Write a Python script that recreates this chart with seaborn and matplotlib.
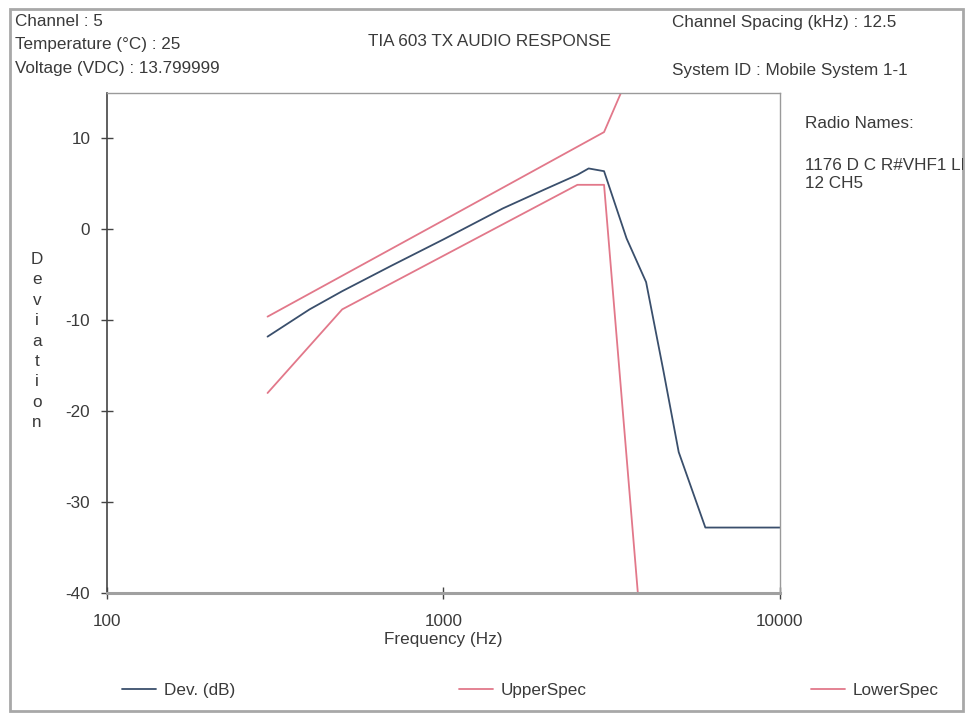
import numpy as np
import pandas as pd
import matplotlib
matplotlib.use("Agg")
import matplotlib.pyplot as plt
from matplotlib.patches import Rectangle
from matplotlib.lines import Line2D
import seaborn as sns

# values
dev_freq = [300, 400, 500, 700, 1000, 1500, 2000, 2500, 2700, 3000, 3500, 4000, 4500, 5000, 6000, 10000]
dev_db = [-11.8, -8.8, -6.8, -4.0, -1.1, 2.3, 4.4, 6.0, 6.7, 6.4, -1.0, -5.8, -15.5, -24.5, -32.8, -32.8]

upper_freq = [300, 1000, 3000, 3600]
upper_db = [-9.6, 1.0, 10.7, 17.5]

lower_freq = [300, 500, 1000, 2500, 3000, 3800]
lower_db = [-18.0, -8.8, -2.9, 4.9, 4.9, -41.0]

series_names = ["Dev. (dB)", "UpperSpec", "LowerSpec"]
x_ticks = [100, 1000, 10000]
y_ticks = [-40, -30, -20, -10, 0, 10]

header_left = ["Channel : 5", "Temperature (\u00b0C) : 25", "Voltage (VDC) : 13.799999"]
header_right = ["Channel Spacing (kHz) : 12.5", "System ID : Mobile System 1-1"]
radio_lines = ["Radio Names:", "1176 D C R#VHF1 LF", "12 CH5"]
title = "TIA 603 TX AUDIO RESPONSE"

dev_color = "#3a4f6c"
spec_color = "#e2788a"
text_color = "#3a3a3a"
FS = 12.3

sns.set_style("white")
plt.rcParams["font.family"] = ["Liberation Sans", "DejaVu Sans"]
plt.rcParams["font.size"] = FS
plt.rcParams["axes.unicode_minus"] = False

W, H = 978, 715
fig = plt.figure(figsize=(W / 100, H / 100), dpi=100)
ax = fig.add_axes([107 / W, 1 - 593 / H, (780 - 107) / W, (593 - 93) / H])

dev_df = pd.DataFrame({"freq": dev_freq, "db": dev_db})
up_df = pd.DataFrame({"freq": upper_freq, "db": upper_db})
lo_df = pd.DataFrame({"freq": lower_freq, "db": lower_db})

sns.lineplot(data=dev_df, x="freq", y="db", ax=ax, color=dev_color, lw=1.3, sort=False)
sns.lineplot(data=up_df, x="freq", y="db", ax=ax, color=spec_color, lw=1.3, sort=False)
sns.lineplot(data=lo_df, x="freq", y="db", ax=ax, color=spec_color, lw=1.3, sort=False)

ax.set_xscale("log")
ax.set_xlim(100, 10000)
ax.set_ylim(-40, 15)
ax.set_xticks(x_ticks)
ax.set_xticklabels([str(t) for t in x_ticks])
ax.minorticks_off()
ax.set_yticks(y_ticks)
ax.tick_params(axis="both", which="major", bottom=True, left=True, direction="inout",
               length=8, width=1, colors="#444444", labelcolor=text_color, labelsize=FS)
ax.tick_params(axis="x", pad=11)
ax.tick_params(axis="y", pad=8)
ax.set_xlabel("Frequency (Hz)", color=text_color, fontsize=FS, labelpad=2)
ax.set_ylabel("")

for side in ["top", "right"]:
    ax.spines[side].set_color("#9a9a9a")
    ax.spines[side].set_linewidth(1.0)
ax.spines["left"].set_color("#444444")
ax.spines["left"].set_linewidth(1.2)
ax.spines["bottom"].set_color("#a0a0a0")
ax.spines["bottom"].set_linewidth(2.2)

# stacked y label
fig.text(37 / W, 1 - 341 / H, "\n".join("Deviation"), ha="center", va="center",
         color=text_color, fontsize=FS, linespacing=1.45)

# outer frame
frame = Rectangle((10 / W, 1 - 711 / H), (963 - 10) / W, (711 - 9) / H,
                  transform=fig.transFigure, fill=False, ec="#a8a8a8", lw=2.0)
fig.patches.append(frame)

# header texts
left_y = [21, 45, 68]
for s, yy in zip(header_left, left_y):
    fig.text(15 / W, 1 - yy / H, s, ha="left", va="center", color=text_color, fontsize=FS)
fig.text(490 / W, 1 - 41 / H, title, ha="center", va="center", color=text_color, fontsize=FS)
fig.text(672 / W, 1 - 22 / H, header_right[0], ha="left", va="center", color=text_color, fontsize=FS)
fig.text(672 / W, 1 - 70 / H, header_right[1], ha="left", va="center", color=text_color, fontsize=FS)

clip = Rectangle((0, 0), 963 / W, 1, transform=fig.transFigure, visible=False)
fig.patches.append(clip)
radio_y = [123, 165, 184]
for s, yy in zip(radio_lines, radio_y):
    t = fig.text(805 / W, 1 - yy / H, s, ha="left", va="center", color=text_color, fontsize=FS)
    t.set_clip_path(clip)

# legend entries spread along the bottom
colors = [dev_color, spec_color, spec_color]
leg_x = [122, 459, 811]
for name, c, lx in zip(series_names, colors, leg_x):
    handle = Line2D([], [], color=c, lw=1.3)
    fig.legend([handle], [name], loc="center left",
               bbox_to_anchor=(lx / W, 1 - 690 / H), frameon=False,
               handlelength=2.0, handletextpad=0.45, fontsize=FS,
               labelcolor=text_color, borderaxespad=0, borderpad=0)

fig.savefig("out.png", dpi=100)
